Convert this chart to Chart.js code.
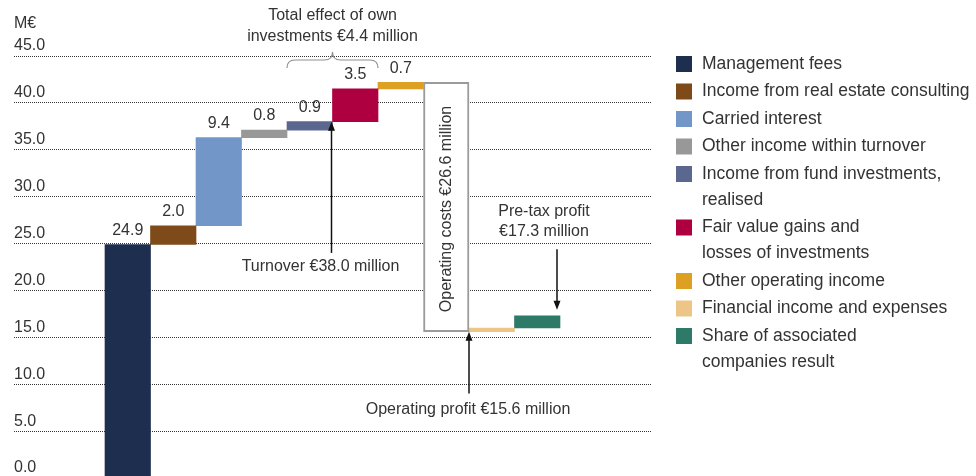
<!DOCTYPE html>
<html lang="en">
  <head>
    <meta charset="UTF-8" />
    <title>Turnover to pre-tax profit</title>
    <script src="https://cdn.jsdelivr.net/npm/chart.js@4.4.0/dist/chart.umd.min.js"></script>
    <style>
      html,
      body {
        margin: 0;
        padding: 0;
        background-color: #ffffff;
        overflow: hidden;
      }

      .chart-container {
        position: relative;
        width: 976px;
        height: 488px;
      }
    </style>
  </head>
  <body>
    <div class="chart-container">
      <canvas id="bridgeChart"></canvas>
    </div>

    <script>
      // Bridge items, in the order they are stacked (\n = legend line break)
      const categories = [
        "Management fees",
        "Income from real estate consulting",
        "Carried interest",
        "Other income within turnover",
        "Income from fund investments,\nrealised",
        "Fair value gains and\nlosses of investments",
        "Other operating income",
        "Operating costs",
        "Financial income and expenses",
        "Share of associated\ncompanies result",
      ];
      const values = [24.9, 2.0, 9.4, 0.8, 0.9, 3.5, 0.7, -26.6, 0.4, 1.3];
      const barColors = [
        "#1e2e4f",
        "#7e4a19",
        "#7396c8",
        "#989898",
        "#5b678f",
        "#ae0040",
        "#dea023",
        "#ffffff",
        "#ecc587",
        "#2d7a68",
      ];
      const labelledBars = 7; // value labels on the turnover/income bars only
      const costIndex = 7; // drawn as an outlined box, not in the legend
      const yTickLabels = ["0.0", "5.0", "10.0", "15.0", "20.0", "25.0", "30.0", "35.0", "40.0", "45.0"];
      const unitLabel = "M€";

      const textColor = "#333333";
      const fontFamily = '"Liberation Sans", Arial, sans-serif';
      const pad = 2; // empty slots either side of the bars

      // running totals: [start, end] of every step
      const steps = [];
      values.reduce((acc, v) => {
        const end = Math.round((acc + v) * 10) / 10;
        steps.push([acc, end]);
        return end;
      }, 0);

      const fmt = (v) => v.toFixed(1);
      const turnover = steps[4][1];
      const ownInvestments = values[4] + values[5];
      const operatingProfit = steps[costIndex][1];
      const preTaxProfit = steps[steps.length - 1][1];

      const slotLabels = Array(pad)
        .fill("")
        .concat(categories.map((c) => c.replace("\n", " ")), Array(pad).fill(""));

      const datasets = categories.map((name, i) => ({
        label: name.replace("\n", " "),
        data: slotLabels.map((_, k) =>
          k === i + pad ? [Math.min(...steps[i]), Math.max(...steps[i])] : null
        ),
        backgroundColor: barColors[i],
        borderColor: i === costIndex ? "#9b9b9b" : barColors[i],
        borderWidth: i === costIndex ? 2 : 0,
        borderSkipped: false,
        grouped: false,
        barPercentage: 1,
        categoryPercentage: 1,
      }));

      function drawArrow(ctx, x, from, to) {
        const dir = Math.sign(to - from);
        ctx.beginPath();
        ctx.moveTo(x, from);
        ctx.lineTo(x, to - dir * 8);
        ctx.stroke();
        ctx.beginPath();
        ctx.moveTo(x, to);
        ctx.lineTo(x - 3.5, to - dir * 9);
        ctx.lineTo(x + 3.5, to - dir * 9);
        ctx.closePath();
        ctx.fill();
      }

      // value labels, brace, arrows and notes
      const annotations = {
        id: "annotations",
        afterDatasetsDraw(chart) {
          const { ctx, chartArea } = chart;
          const y = chart.scales.y;
          const bar = (i) => chart.getDatasetMeta(i).data[i + pad];
          const left = (el) => el.x - el.width / 2;
          const right = (el) => el.x + el.width / 2;

          ctx.save();
          ctx.font = "16px " + fontFamily;
          ctx.fillStyle = textColor;
          ctx.textAlign = "center";
          ctx.textBaseline = "middle";

          for (let i = 0; i < labelledBars; i++) {
            const el = bar(i);
            ctx.fillText(fmt(values[i]), el.x, Math.min(el.y, el.base) - 14);
          }

          // unit
          ctx.textAlign = "left";
          ctx.fillText(unitLabel, chartArea.left, chartArea.top - 32);
          ctx.textAlign = "center";

          // brace over fund investments + fair value
          const b0 = left(bar(4));
          const b1 = right(bar(5));
          const bm = (b0 + b1) / 2;
          const yb = chartArea.top + 12;
          const yh = chartArea.top + 4;
          const yt = chartArea.top - 4;
          ctx.beginPath();
          ctx.moveTo(b0, yb);
          ctx.quadraticCurveTo(b0, yh, b0 + 8, yh);
          ctx.lineTo(bm - 8, yh);
          ctx.quadraticCurveTo(bm, yh, bm, yt);
          ctx.quadraticCurveTo(bm, yh, bm + 8, yh);
          ctx.lineTo(b1 - 8, yh);
          ctx.quadraticCurveTo(b1, yh, b1, yb);
          ctx.strokeStyle = "#8f8f8f";
          ctx.lineWidth = 1.2;
          ctx.stroke();
          ctx.fillText("Total effect of own", bm, chartArea.top - 40);
          ctx.fillText("investments €" + fmt(ownInvestments) + " million", bm, chartArea.top - 19);

          ctx.strokeStyle = "#111111";
          ctx.fillStyle = "#111111";
          ctx.lineWidth = 1.5;

          // turnover
          const tx = right(bar(4)) - 1;
          drawArrow(ctx, tx, y.getPixelForValue(24), y.getPixelForValue(turnover));
          ctx.fillStyle = textColor;
          ctx.fillText("Turnover €" + fmt(turnover) + " million", tx - 11, y.getPixelForValue(22.5));

          // operating costs box text
          const box = bar(costIndex);
          ctx.save();
          ctx.translate(box.x, (box.y + box.base) / 2 + 2);
          ctx.rotate(-Math.PI / 2);
          ctx.fillText("Operating costs €" + fmt(-values[costIndex]) + " million", 0, 0);
          ctx.restore();

          // operating profit
          const px = right(box);
          ctx.fillStyle = "#111111";
          drawArrow(ctx, px, y.getPixelForValue(9), y.getPixelForValue(operatingProfit));
          ctx.fillStyle = textColor;
          ctx.fillText("Operating profit €" + fmt(operatingProfit) + " million", px - 1, y.getPixelForValue(7.3));

          // pre-tax profit
          const last = bar(categories.length - 1);
          const qx = right(last) - 3;
          ctx.fillText("Pre-tax profit", qx - 13, y.getPixelForValue(28.4));
          ctx.fillText("€" + fmt(preTaxProfit) + " million", qx - 13, y.getPixelForValue(26.3));
          ctx.fillStyle = "#111111";
          drawArrow(ctx, qx, y.getPixelForValue(24.4), y.getPixelForValue(preTaxProfit) - 6);

          ctx.restore();
        },
      };

      // legend on the right, with wrapped entries
      const sideLegend = {
        id: "sideLegend",
        afterDraw(chart) {
          const { ctx } = chart;
          ctx.save();
          ctx.font = "17.5px " + fontFamily;
          ctx.textAlign = "left";
          ctx.textBaseline = "middle";
          let yPos = 64;
          categories.forEach((name, i) => {
            if (i === costIndex) return;
            const lines = name.split("\n");
            ctx.fillStyle = barColors[i];
            ctx.fillRect(676, yPos - 8, 16, 16);
            ctx.fillStyle = textColor;
            lines.forEach((line, j) => ctx.fillText(line, 702, yPos + j * 26));
            yPos += (lines.length - 1) * 26 + 27.5;
          });
          ctx.restore();
        },
      };

      const ctx = document.getElementById("bridgeChart").getContext("2d");

      const bridgeChart = new Chart(ctx, {
        type: "bar",
        data: {
          labels: slotLabels,
          datasets: datasets,
        },
        options: {
          responsive: true,
          maintainAspectRatio: false,
          animation: false,
          events: [],
          layout: {
            padding: { left: 14, right: 325, top: 56, bottom: 10 },
          },
          scales: {
            x: {
              display: false,
            },
            y: {
              min: 0,
              max: 45,
              border: { display: false, dash: [1, 1] },
              grid: {
                color: "#333333",
                lineWidth: 1,
                drawTicks: false,
              },
              ticks: {
                stepSize: 5,
                mirror: true,
                padding: 0,
                labelOffset: -10,
                color: textColor,
                font: { family: fontFamily, size: 16 },
                callback: (value, index) => yTickLabels[index],
              },
            },
          },
          plugins: {
            legend: { display: false },
            tooltip: { enabled: false },
          },
        },
        plugins: [annotations, sideLegend],
      });
    </script>
  </body>
</html>
